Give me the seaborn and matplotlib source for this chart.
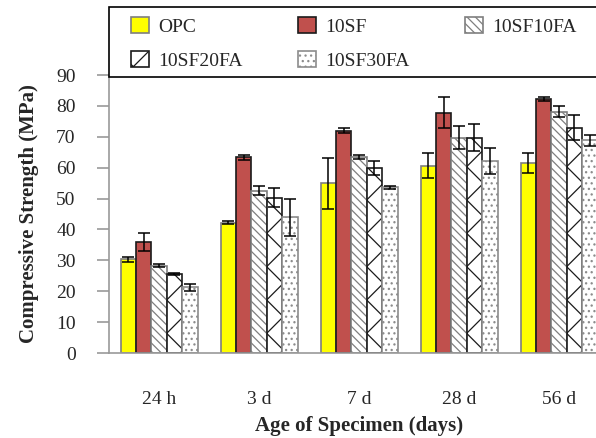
import pandas as pd
import seaborn as sns
import matplotlib.pyplot as plt

# ages of specimen and the five mixes
ages = ['24 h', '3 d', '7 d', '28 d', '56 d']
mixes = ['OPC', '10SF', '10SF10FA', '10SF20FA', '10SF30FA']

# compressive strength (MPa), one list per mix, in age order
opc = [30.3, 42.2, 54.9, 60.6, 61.6]
sf10 = [36.0, 63.3, 72.0, 77.8, 82.3]
sf10fa10 = [28.3, 52.5, 63.5, 69.7, 78.1]
sf10fa20 = [25.5, 50.3, 59.8, 69.7, 72.9]
sf10fa30 = [21.3, 43.9, 53.6, 62.1, 68.8]

# error bar half-widths (MPa)
opc_err = [0.7, 0.5, 8.3, 4.0, 3.3]
sf10_err = [3.0, 0.9, 0.7, 5.0, 0.6]
sf10fa10_err = [0.5, 1.5, 0.7, 3.7, 1.8]
sf10fa20_err = [0.3, 3.0, 2.3, 4.4, 4.0]
sf10fa30_err = [1.1, 6.0, 0.5, 4.3, 1.9]

values = [opc, sf10, sf10fa10, sf10fa20, sf10fa30]
errors = [opc_err, sf10_err, sf10fa10_err, sf10fa20_err, sf10fa30_err]

df = pd.DataFrame({
    'age': ages * len(mixes),
    'mix': [m for m in mixes for _ in ages],
    'strength': [v for vals in values for v in vals],
})

sns.set_style('white')
plt.rcParams['font.family'] = ['Liberation Serif', 'DejaVu Serif']
plt.rcParams['hatch.linewidth'] = 0.9

W, H = 596, 438
fig = plt.figure(figsize=(W / 100, H / 100), dpi=100)
ax = fig.add_axes([109 / W, 85 / H, 500 / W, 278 / H])

sns.barplot(data=df, x='age', y='strength', hue='mix', order=ages, hue_order=mixes,
            width=0.77, errorbar=None, legend=False, ax=ax)

# per-mix look: face, edge, hatch
styles = [
    ('#ffff00', '#7f7f7f', None),
    ('#c0504d', '#1a1a1a', None),
    ('white', '#7f7f7f', '\\\\\\\\'),
    ('white', '#1a1a1a', 'x'),
    ('white', '#8c8c8c', '...'),
]
for cont, (fc, ec, hatch), err in zip(ax.containers, styles, errors):
    for bar in cont:
        bar.set_facecolor(fc)
        bar.set_edgecolor(ec)
        bar.set_linewidth(1.2)
        bar.set_hatch(hatch)
    xs = [b.get_x() + b.get_width() / 2 for b in cont]
    ys = [b.get_height() for b in cont]
    ax.errorbar(xs, ys, yerr=err, fmt='none', ecolor='black', elinewidth=1.1,
                capsize=4, capthick=1.1, zorder=5)

ax.set_ylim(0, 90)
ax.set_yticks(range(0, 91, 10))
ax.set_xlim(-0.5, len(ages) - 0.5)
for s in ['top', 'right']:
    ax.spines[s].set_visible(False)
for s in ['left', 'bottom']:
    ax.spines[s].set_color('#999999')
    ax.spines[s].set_linewidth(1.2)
ax.tick_params(axis='y', length=9, width=1.2, color='#999999', pad=15, labelsize=14,
               left=True, direction='out')
ax.tick_params(axis='x', length=0, pad=27, labelsize=14)
ax.set_xlabel('Age of Specimen (days)', fontsize=15, fontweight='bold', labelpad=6)
ax.set_ylabel('Compressive Strength (MPa)', fontsize=15, fontweight='bold', labelpad=12)

# legend box (runs off the right edge like the original)
fig.patches.append(plt.Rectangle((109 / W, 1 - 77 / H), 520 / W, 70 / H,
                                 transform=fig.transFigure, facecolor='white',
                                 edgecolor='black', linewidth=1.2, zorder=3))

handles = [plt.Rectangle((0, 0), 1, 1, facecolor=fc, edgecolor=ec, hatch=h, linewidth=1.2)
           for fc, ec, h in styles]
# column-major fill -> reorder so the rows read OPC, 10SF, 10SF10FA / 10SF20FA, 10SF30FA
order = [0, 3, 1, 4, 2]
leg = fig.legend([handles[i] for i in order], [mixes[i] for i in order],
                 loc='upper left', ncol=3, bbox_to_anchor=(131 / W, 1 - 17 / H),
                 fontsize=14, frameon=False, handlelength=0.95, handleheight=0.9,
                 handletextpad=0.45, borderpad=0, columnspacing=2.84,
                 labelspacing=0.8, borderaxespad=0)
leg.set_zorder(4)

fig.savefig('out.png', dpi=100)
